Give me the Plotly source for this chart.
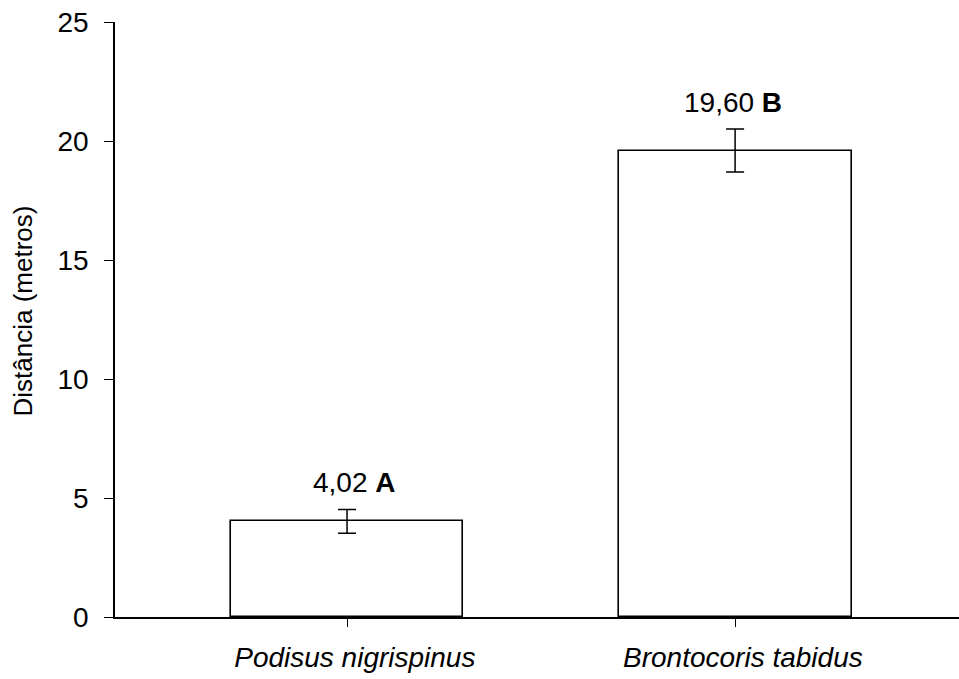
import plotly.graph_objects as go

categories = ["Podisus nigrispinus", "Brontocoris tabidus"]
values = [4.02, 19.60]
errors = [0.50, 0.90]
value_labels = ["4,02", "19,60"]
group_letters = ["A", "B"]
y_ticks = [0, 5, 10, 15, 20, 25]
y_title = "Distância (metros)"

FONT = "Liberation Sans, Arial, sans-serif"
LABEL_XSHIFT = [7, -2]  # small horizontal nudges of the value labels

fig = go.Figure()
fig.add_trace(go.Bar(
    x=list(range(len(categories))),
    y=values,
    width=0.6,
    marker=dict(color="white", line=dict(color="black", width=1.6)),
    error_y=dict(type="data", array=errors, visible=True, color="black",
                 thickness=1.5, width=9),
    showlegend=False,
))

for i, (v, e, lab, let) in enumerate(zip(values, errors, value_labels, group_letters)):
    fig.add_annotation(x=i, y=v + e, text=f"{lab} <b>{let}</b>", showarrow=False,
                       yanchor="bottom", yshift=9, xshift=LABEL_XSHIFT[i],
                       font=dict(family=FONT, size=28, color="black"))

# y-axis title
fig.add_annotation(xref="paper", yref="paper", x=0, y=0.5, xanchor="center", yanchor="middle",
                   xshift=-93, yshift=8, textangle=-90, text=y_title, showarrow=False,
                   font=dict(family=FONT, size=26, color="black"))

fig.update_layout(
    width=959, height=679,
    margin=dict(l=115, r=0, t=22, b=62),
    plot_bgcolor="white", paper_bgcolor="white",
    font=dict(family=FONT, size=26, color="black"),
    bargap=0,
)
fig.update_xaxes(
    range=[-0.598, 1.577],
    tickvals=list(range(len(categories))),
    ticktext=[f"&nbsp;&nbsp;<i>{c}</i>" for c in categories],
    showline=True, linecolor="black", linewidth=1.6,
    ticks="outside", ticklen=8, tickwidth=1.3, tickcolor="black",
    ticklabelstandoff=7,
    tickfont=dict(family=FONT, size=28),
    showgrid=False, zeroline=False, automargin=False,
)
fig.update_yaxes(
    range=[0, 25],
    tickvals=y_ticks,
    ticktext=[str(t) for t in y_ticks],
    showline=True, linecolor="black", linewidth=1.6,
    ticks="outside", ticklen=9, tickwidth=1.3, tickcolor="black",
    ticklabelstandoff=10,
    tickfont=dict(family=FONT, size=28),
    showgrid=False, zeroline=False, automargin=False,
)

fig.write_html(
    "out.html",
    config={"displayModeBar": False},
    post_script="document.body.style.margin='0';document.body.style.overflow='hidden';document.documentElement.style.overflow='hidden';",
)
